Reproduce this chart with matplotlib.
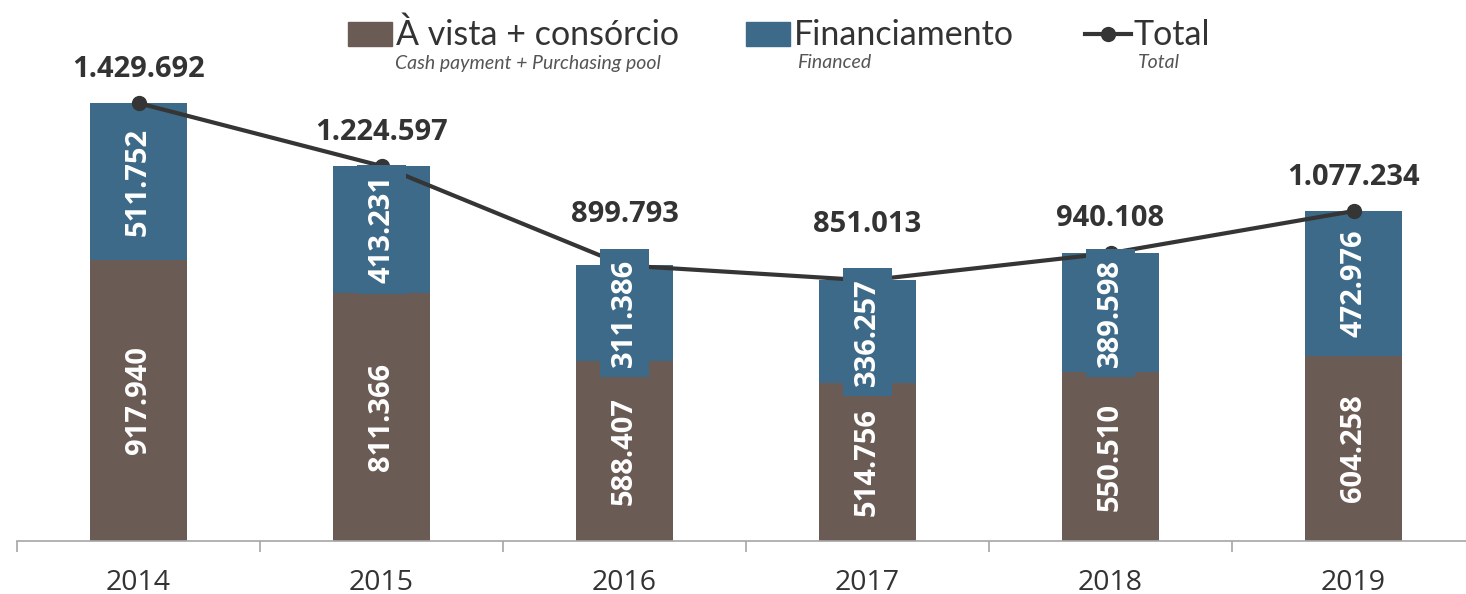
import matplotlib
matplotlib.use("Agg")
import matplotlib.pyplot as plt
from matplotlib.patches import Rectangle
from matplotlib.lines import Line2D

# === Data ===
years = ["2014", "2015", "2016", "2017", "2018", "2019"]
cash = [917940, 811366, 588407, 514756, 550510, 604258]
financed = [511752, 413231, 311386, 336257, 389598, 472976]
total = [1429692, 1224597, 899793, 851013, 940108, 1077234]

# label lift above each total point, in points (style only)
total_lift = [24, 24, 37, 40, 25, 24]

BROWN = "#6b5b55"
BLUE = "#3d6a88"
LINE = "#353535"
TEXT = "#333333"
NUM_FONT = ["Open Sans", "DejaVu Sans"]
LEG_FONT = ["Lato", "DejaVu Sans"]


def fmt(v):
    return f"{v:,}".replace(",", ".")


W, H = 1466, 594
fig = plt.figure(figsize=(W / 100, H / 100), dpi=100)
ax = fig.add_axes([17 / W, 53 / H, 1458 / W, 490 / H])

x = list(range(len(years)))
ax.bar(x, cash, width=0.4, color=BROWN, zorder=2)
ax.bar(x, financed, width=0.4, bottom=cash, color=BLUE, zorder=2)
ax.plot(x, total, color=LINE, lw=3, marker="o", ms=10, zorder=3)

for i in x:
    ax.text(i, cash[i] / 2, fmt(cash[i]), rotation=90, ha="center", va="center",
            color="white", fontsize=21, fontweight="bold", family=NUM_FONT, zorder=4)
    ax.text(i, cash[i] + financed[i] / 2, fmt(financed[i]), rotation=90,
            ha="center", va="center", color="white", fontsize=21,
            fontweight="bold", family=NUM_FONT, zorder=5,
            bbox=dict(boxstyle="square,pad=0.35", fc=BLUE, ec="none"))
    ax.annotate(fmt(total[i]), (i, total[i]), xytext=(0, total_lift[i]),
                textcoords="offset points", ha="center", va="center",
                color=TEXT, fontsize=21, fontweight="bold", family=NUM_FONT, zorder=6)

ax.set_xlim(-0.5, 5.5)
ax.set_ylim(0, 1.6e6)
for s in ["top", "right", "left"]:
    ax.spines[s].set_visible(False)
ax.spines["bottom"].set_color("#a6a6a6")
ax.spines["bottom"].set_linewidth(1.2)
ax.set_yticks([])
ax.set_xticks(x)
ax.set_xticklabels(years, fontsize=20.5, color=TEXT, family=NUM_FONT)
ax.tick_params(axis="x", which="major", length=0, pad=20)
ax.set_xticks([i - 0.5 for i in range(len(years) + 1)], minor=True)
ax.tick_params(axis="x", which="minor", length=8, width=1.2, color="#a6a6a6")

# === Legend drawn by hand ===
def fx(px):
    return px / W


def fy(py):
    return 1 - py / H


fig.patches.append(Rectangle((fx(348), fy(46)), 44 / W, 24 / H, color=BROWN,
                             transform=fig.transFigure))
fig.patches.append(Rectangle((fx(746), fy(46)), 44 / W, 24 / H, color=BLUE,
                             transform=fig.transFigure))
fig.lines.append(Line2D([fx(1085), fx(1131)], [fy(34), fy(34)], color=LINE, lw=3,
                        transform=fig.transFigure))
fig.lines.append(Line2D([fx(1108)], [fy(34)], color=LINE, marker="o", ms=10,
                        transform=fig.transFigure))

fig.text(fx(396), fy(35), "À vista + consórcio", fontsize=24.5, color=TEXT,
         family=LEG_FONT, va="center", ha="left")
fig.text(fx(794), fy(35), "Financiamento", fontsize=24.5, color=TEXT,
         family=LEG_FONT, va="center", ha="left")
fig.text(fx(1134), fy(35), "Total", fontsize=24.5, color=TEXT,
         family=LEG_FONT, va="center", ha="left")
fig.text(fx(395), fy(63), "Cash payment + Purchasing pool", fontsize=14,
         color="#555555", family=LEG_FONT, style="italic", va="center", ha="left")
fig.text(fx(797), fy(63), "Financed", fontsize=14, color="#555555",
         family=LEG_FONT, style="italic", va="center", ha="left")
fig.text(fx(1138), fy(63), "Total", fontsize=14, color="#555555",
         family=LEG_FONT, style="italic", va="center", ha="left")

fig.savefig("out.png", dpi=100)
plt.close(fig)
